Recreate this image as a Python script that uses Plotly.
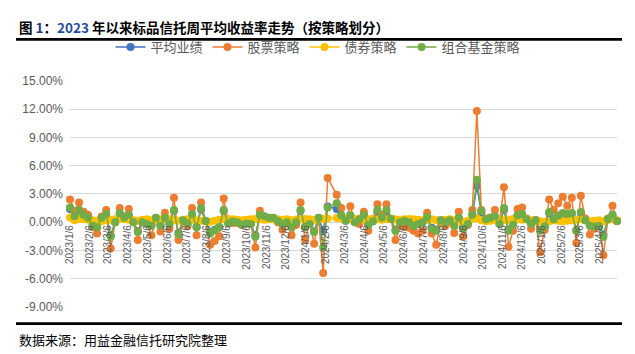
import pandas as pd
import plotly.graph_objects as go

# ---------------- data ----------------
# weekly observation dates (Fridays); Spring Festival week 2024-02-16 has no data
dates = pd.date_range("2023-01-06", "2025-05-02", freq="7D")
dates = dates[dates != pd.Timestamp("2024-02-16")]

series_names = ["平均业绩", "股票策略", "债券策略", "组合基金策略"]

avg_perf = [
    1.4, 0.6, 1.2, 0.7, 0.45, -0.3, -0.5, 0.45, 0.8, -1.4,
    0.05, 0.9, 0.45, 0.75, 0.05, -0.95, 0.05, -0.15, -0.35, 0.45,
    -0.3, 0.45, -0.15, 1.2, -1.15, 0.2, -0.1, 0.8, -0.5, 1.35,
    0.15, -1.1, -0.8, -0.5, 1.2, -0.1, 0.1, 0.05, -0.2, -0.1,
    -0.15, -1.4, 0.75, 0.6, 0.45, 0.45, 0.15, -0.15, 0.05, -0.5,
    0.05, 1.2, -0.5, -0.15, -0.95, 0.45, -0.9, 1.65,
    1.4, 0.7, 0.15, 0.7, 0.05, 0.3, 0.75, -0.25, 0.1, 1.0, 0.5,
    0.8, 0.35, -0.8, 0.05, 0.15, 0.05, -0.35, -0.15, 0.05, 0.5,
    -0.6, -0.8, 0.2, 0.05, 0.2, -0.35, 0.45, -0.6, -0.15, 0.75,
    3.8, 1.0, 0.3, 0.45, 0.6, -0.15, 1.3, -0.8, -0.25, 0.7,
    0.8, 0.3, -0.15, 0.2, -0.85, -0.45, 0.95, 0.3, 0.65, 0.9,
    0.8, 0.9, -0.85, 0.95, 0.2, -0.35, -0.45, -0.4, -1.3, 0.3,
    0.75, 0.15,
]

stock = [
    2.4, 1.2, 2.1, 1.1, 0.8, -0.5, -1.2, 0.6, 1.3, -2.8,
    0.0, 1.5, 0.6, 1.4, 0.0, -1.9, 0.0, -0.1, -1.4, 0.2,
    -1.0, 1.0, -0.7, 2.6, -1.9, 0.1, -0.4, 1.5, -1.4, 2.1,
    0.1, -2.4, -2.0, -1.5, 2.5, 0.0, -0.1, -0.1, -0.3, -0.1,
    -0.2, -2.7, 1.2, 0.5, 0.4, 0.3, 0.0, -0.8, 0.0, -1.4,
    -0.3, 2.1, -1.9, 0.0, -2.3, 0.4, -5.4, 4.7,
    2.9, 1.5, 0.3, 1.7, 0.0, -0.2, 1.1, -0.9, 0.3, 1.9, 0.8,
    1.9, 0.3, -1.9, -0.4, -0.5, -0.6, -0.9, -1.2, -0.9, 1.0,
    -1.2, -2.4, 0.0, -0.4, 0.0, -1.15, 1.1, -1.5, -0.3, 1.3,
    11.8, 1.3, 0.4, 0.5, 1.3, 0.0, 3.7, -2.6, -0.9, 1.4,
    1.55, 0.4, -0.7, 0.2, -3.2, -0.8, 2.4, 1.3, 2.0, 2.7,
    1.75, 2.6, -2.2, 2.8, 0.4, -1.3, -0.7, -0.4, -3.5, 0.4,
    1.75, 0.1,
]

bond = [
    0.5, 0.2, 0.35, 0.3, 0.25, 0.2, 0.15, 0.1, 0.2, 0.25,
    0.3, 0.35, 0.3, 0.25, 0.2, 0.15, 0.25, 0.3, 0.2, 0.25,
    0.3, 0.35, 0.3, 0.2, 0.15, 0.25, 0.3, 0.25, 0.2, 0.15,
    0.1, 0.05, 0.15, 0.25, 0.3, 0.35, 0.3, 0.25, 0.2, 0.25,
    0.3, 0.35, 0.3, 0.25, 0.3, 0.35, 0.3, 0.25, 0.3, 0.2,
    0.25, 0.3, 0.35, 0.3, 0.25, 0.3, 0.35, 0.4,
    0.45, 0.4, 0.35, 0.3, 0.35, 0.3, 0.25, 0.3, 0.35, 0.3, 0.25,
    0.3, 0.35, 0.3, 0.25, 0.3, 0.35, 0.3, 0.25, 0.2, 0.25,
    0.3, 0.2, 0.15, 0.25, 0.3, 0.2, 0.1, 0.05, 0.15, 0.35,
    0.4, 0.2, 0.1, 0.15, 0.25, 0.3, 0.2, 0.25, 0.35, 0.3,
    0.25, 0.3, 0.2, 0.15, 0.1, 0.05, 0.1, 0.2, 0.15, 0.1,
    0.15, 0.2, 0.25, 0.3, 0.2, 0.1, 0.15, 0.2, 0.1, 0.25,
    0.3, 0.2,
]

fof = [
    1.55, 0.64, 1.3, 0.8, 0.47, -0.37, -0.54, 0.47, 0.88, -1.55,
    0.0, 0.98, 0.47, 0.8, 0.0, -1.05, 0.0, -0.2, -0.37, 0.47,
    -0.37, 0.47, -0.2, 1.3, -1.3, 0.2, -0.14, 0.88, -0.54, 1.5,
    0.13, -1.2, -0.88, -0.54, 1.3, -0.14, 0.07, 0.0, -0.27, -0.14,
    -0.2, -1.55, 0.8, 0.64, 0.47, 0.47, 0.13, -0.2, 0.0, -0.54,
    0.0, 1.3, -0.54, -0.2, -1.05, 0.47, -2.7, 1.55,
    2.0, 0.74, 0.14, 0.74, 0.0, 0.3, 0.8, -0.3, 0.1, 1.3, 0.5,
    1.3, 0.37, -0.9, 0.0, 0.15, 0.0, -0.4, -0.2, 0.0, 0.55,
    -0.7, -0.9, 0.2, 0.0, 0.2, -0.4, 0.47, -0.7, -0.2, 0.8,
    4.5, 1.15, 0.3, 0.47, 0.64, -0.2, 1.5, -0.9, -0.27, 0.74,
    0.88, 0.3, -0.2, 0.2, -0.9, -0.47, 1.08, 0.3, 0.7, 0.98,
    0.88, 0.98, -0.9, 1.08, 0.2, -0.37, -0.47, -0.4, -1.55, 0.3,
    0.8, 0.13,
]

y_ticks = [-9, -6, -3, 0, 3, 6, 9, 12, 15]
y_ticktext = [f"{v:.2f}%" for v in y_ticks]

x_tick_dates = [pd.Timestamp(y, m, 6) for y in (2023, 2024, 2025) for m in range(1, 13)
                if pd.Timestamp(y, m, 6) <= pd.Timestamp(2025, 4, 6)]
x_ticktext = [f"{d.year}/{d.month}/{d.day}" for d in x_tick_dates]

# ---------------- figure ----------------
colors = ["#4472C4", "#ED7D31", "#FFC000", "#70AD47"]
values = [avg_perf, stock, bond, fof]

for v in values:
    assert len(v) == len(dates), (len(v), len(dates))

fig = go.Figure()
for name, vals, col in zip(series_names, values, colors):
    fig.add_trace(go.Scatter(
        x=dates, y=vals, name=name, mode="lines+markers",
        line=dict(color=col, width=1.5),
        marker=dict(color=col, size=8),
        cliponaxis=False,
    ))

W, H = 635, 354
L, R, T, B = 70, 18, 70, 47
pw, ph = W - L - R, H - T - B


def px_x(px):
    return (px - L) / pw


def px_y(py):
    return (H - B - py) / ph


ymin, ymax = -9, 15
fig.update_layout(
    width=W, height=H,
    margin=dict(l=L, r=R, t=T, b=B),
    paper_bgcolor="white", plot_bgcolor="white",
    font=dict(family="Noto Sans CJK SC, Liberation Sans, sans-serif", color="#595959"),
    showlegend=True,
    legend=dict(
        orientation="h", xref="container", yref="container",
        x=318 / W, xanchor="center", y=1 - 47 / H, yanchor="middle",
        font=dict(size=13, color="#595959"),
        bgcolor="rgba(0,0,0,0)",
    ),
    xaxis=dict(
        type="date",
        range=[dates[0], dates[-1]],
        tickvals=x_tick_dates, ticktext=x_ticktext,
        tickangle=-90,
        anchor="free", position=(0 - ymin) / (ymax - ymin),
        showgrid=False, zeroline=False, showline=False, ticks="",
        tickfont=dict(family="Liberation Sans, sans-serif", size=10, color="#595959"),
    ),
    yaxis=dict(
        range=[ymin, ymax],
        tickvals=y_ticks, ticktext=y_ticktext,
        showgrid=True, gridcolor="#d9d9d9", gridwidth=1,
        zeroline=False, showline=False, ticks="",
        ticklabelstandoff=6,
        tickfont=dict(family="Liberation Sans, sans-serif", size=12, color="#595959"),
    ),
)

# title
fig.add_annotation(
    xref="paper", yref="paper", x=px_x(17), y=px_y(14),
    xanchor="left", yanchor="middle", showarrow=False,
    text="<b>图 <span style='color:#1f3c88'>1</span>：<span style='color:#1f4e9a'>2023</span> 年以来标品信托周平均收益率走势（按策略划分）</b>",
    font=dict(family="Noto Sans CJK SC", size=13.5, color="#000000"),
)
# footer
fig.add_annotation(
    xref="paper", yref="paper", x=px_x(17), y=px_y(341),
    xanchor="left", yanchor="middle", showarrow=False,
    text="数据来源：用益金融信托研究院整理",
    font=dict(family="Noto Sans CJK SC", size=13, color="#000000"),
)
# rules
for py in (26.5, 324.5):
    fig.add_shape(type="line", xref="paper", yref="paper",
                  x0=px_x(16), x1=px_x(622), y0=px_y(py), y1=px_y(py),
                  line=dict(color="#000000", width=2.7))

fig.write_html("out.html")
